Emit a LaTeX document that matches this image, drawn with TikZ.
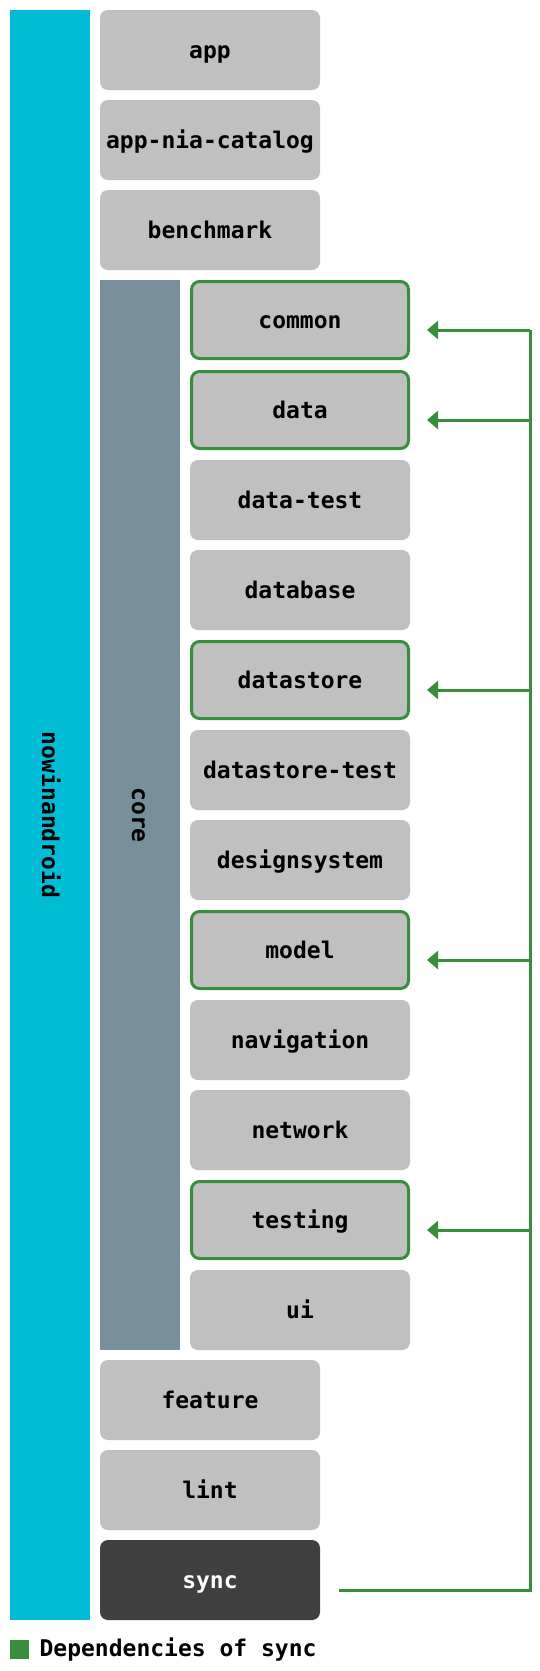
\documentclass[tikz,border=0pt]{standalone}
\usepackage{fontspec}
\setmonofont{DejaVu Sans Mono}
\usetikzlibrary{arrows.meta}
\definecolor{nia}{HTML}{00BCD4}
\definecolor{corec}{HTML}{78909C}
\definecolor{boxg}{HTML}{C0C0C0}
\definecolor{syncc}{HTML}{404040}
\definecolor{depg}{HTML}{388E3C}
\begin{document}
\begin{tikzpicture}[x=1pt,y=-1pt,
  lbl/.style={font=\fontsize{23}{27}\selectfont\ttfamily\bfseries},
  mod/.style={lbl, rectangle, rounded corners=8pt, fill=boxg, text=black,
    minimum width=220pt, minimum height=80pt, inner sep=0pt,
    text height=16pt, text depth=0pt},
  dep/.style={mod, draw=depg, line width=3pt, minimum width=217pt, minimum height=77pt},
  syncbox/.style={mod, fill=syncc, text=white},
  bar/.style={lbl, rectangle, rotate=-90, inner sep=0pt, minimum height=80pt, text=black,
    text height=16pt, text depth=0pt},
  depline/.style={draw=depg, line width=3pt},
  deparrow/.style={depline, -{Triangle[length=11pt,width=18pt]}}
]
\useasboundingbox (0,0) rectangle (540,1671);
% group bars
\node[bar, fill=nia, minimum width=1610pt] (nia) at (50,815) {nowinandroid};
\node[bar, fill=corec, minimum width=1070pt] (core) at (140,815) {core};
% top-level modules
\node[mod] (app) at (210,50) {app};
\node[mod] (catalog) at (210,140) {app-nia-catalog};
\node[mod] (benchmark) at (210,230) {benchmark};
% core modules
\node[dep] (common) at (300,320) {common};
\node[dep] (data) at (300,410) {data};
\node[mod] (datatest) at (300,500) {data-test};
\node[mod] (database) at (300,590) {database};
\node[dep] (datastore) at (300,680) {datastore};
\node[mod] (datastoretest) at (300,770) {datastore-test};
\node[mod] (designsystem) at (300,860) {designsystem};
\node[dep] (model) at (300,950) {model};
\node[mod] (navigation) at (300,1040) {navigation};
\node[mod] (network) at (300,1130) {network};
\node[dep] (testing) at (300,1220) {testing};
\node[mod] (ui) at (300,1310) {ui};
% bottom modules
\node[mod] (feature) at (210,1400) {feature};
\node[mod] (lint) at (210,1490) {lint};
\node[syncbox] (sync) at (210,1580) {sync};
% dependency bus
\coordinate (bus) at (530,0);
\draw[depline] ([xshift=19pt,yshift=-10pt]sync.east) -| ([yshift=-10pt]common.east -| bus);
\foreach \m in {common,data,datastore,model,testing}{
  \draw[deparrow] ([yshift=-10pt]\m.east -| bus) -- ([xshift=17pt,yshift=-10pt]\m.east);
}
% legend
\node[fill=depg, minimum size=19pt, inner sep=0pt, anchor=north west] (legbox) at (10,1640) {};
\node[lbl, anchor=west, inner sep=0pt, text=black] (legtext) at ([xshift=10pt]legbox.east) {Dependencies of sync};
\end{tikzpicture}
\end{document}
